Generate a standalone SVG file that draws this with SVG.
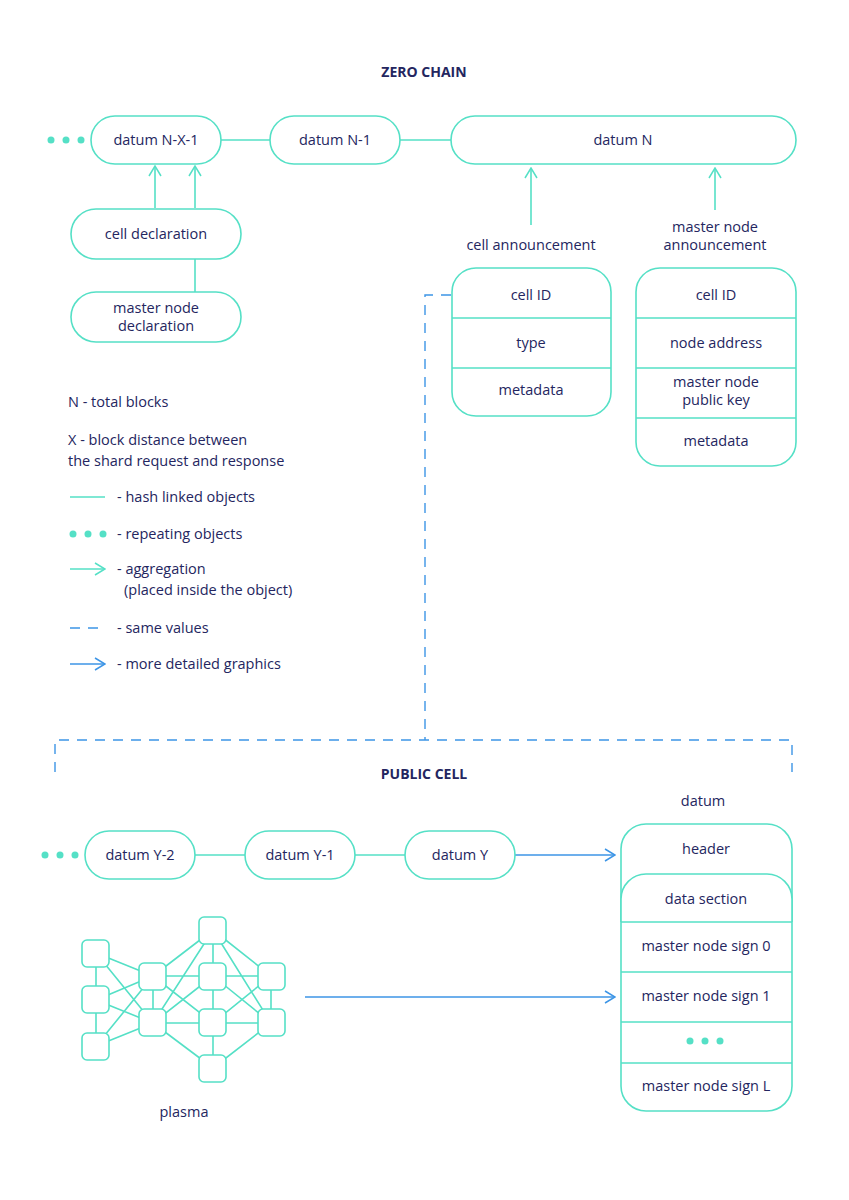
<svg xmlns="http://www.w3.org/2000/svg" width="849" height="1200" viewBox="0 0 849 1200">
<defs>
<style>
.s{fill:none;stroke:#55e0c6;stroke-width:1.6}
.b{fill:#fff;stroke:#55e0c6;stroke-width:1.6}
.bl{fill:none;stroke:#3d95e6;stroke-width:1.4}
.d{fill:none;stroke:#3d95e6;stroke-width:1.4;stroke-dasharray:10 8}
text{font-family:"Open Sans","Liberation Sans",sans-serif;font-size:14.5px;fill:#242660}
.c{text-anchor:middle}
.h{font-weight:bold;font-size:14px}
.dot{fill:#55e0c6}
</style>
<marker id="ta" markerWidth="12" markerHeight="14" refX="11" refY="7" orient="auto" markerUnits="userSpaceOnUse"><path d="M1,1 L11,7 L1,13" fill="none" stroke="#55e0c6" stroke-width="1.5"/></marker>
<marker id="ba" markerWidth="12" markerHeight="14" refX="11" refY="7" orient="auto" markerUnits="userSpaceOnUse"><path d="M1,1 L11,7 L1,13" fill="none" stroke="#3d95e6" stroke-width="1.5"/></marker>
</defs>
<rect width="849" height="1200" fill="#fff"/>
<text class="c h" x="424" y="77">ZERO CHAIN</text>
<text class="c h" x="424" y="779">PUBLIC CELL</text>
<g id="connectors">
<line class="s" x1="221" y1="140" x2="270" y2="140"/>
<line class="s" x1="400" y1="140" x2="451" y2="140"/>
<line class="s" x1="155" y1="208" x2="155" y2="166" marker-end="url(#ta)"/>
<line class="s" x1="195" y1="208" x2="195" y2="166" marker-end="url(#ta)"/>
<line class="s" x1="195" y1="259" x2="195" y2="292"/>
<line class="s" x1="531" y1="225" x2="531" y2="168" marker-end="url(#ta)"/>
<line class="s" x1="715" y1="210" x2="715" y2="168" marker-end="url(#ta)"/>
<path class="d" d="M451,295 H425 V740"/>
<path class="d" d="M55,772 V740 H792 V772"/>
<line class="s" x1="195" y1="855" x2="245" y2="855"/>
<line class="s" x1="355" y1="855" x2="405" y2="855"/>
<line class="bl" x1="515" y1="855" x2="615" y2="855" marker-end="url(#ba)"/>
<line class="bl" x1="305" y1="997" x2="615" y2="997" marker-end="url(#ba)"/>
</g>
<g id="dots-top"><circle class="dot" cx="51" cy="140" r="3.5"/><circle class="dot" cx="66" cy="140" r="3.5"/><circle class="dot" cx="81" cy="140" r="3.5"/></g>
<g id="n1"><rect class="b" x="91" y="116" width="130" height="48" rx="24"/><text class="c" x="156" y="145">datum N-X-1</text></g>
<g id="n2"><rect class="b" x="270" y="116" width="130" height="48" rx="24"/><text class="c" x="335" y="145">datum N-1</text></g>
<g id="n3"><rect class="b" x="451" y="116" width="345" height="48" rx="24"/><text class="c" x="623" y="145">datum N</text></g>
<g id="n4"><rect class="b" x="71" y="209" width="170" height="50" rx="25"/><text class="c" x="156" y="239">cell declaration</text></g>
<g id="n5"><rect class="b" x="71" y="292" width="170" height="50" rx="25"/><text class="c" x="156" y="313">master node</text><text class="c" x="156" y="331">declaration</text></g>
<text class="c" x="531" y="250">cell announcement</text>
<text class="c" x="715" y="232">master node</text>
<text class="c" x="715" y="250">announcement</text>
<g id="n6"><rect class="b" x="452" y="268" width="159" height="148" rx="24"/>
<line class="s" x1="452" y1="318" x2="611" y2="318"/><line class="s" x1="452" y1="368" x2="611" y2="368"/>
<text class="c" x="531" y="300">cell ID</text><text class="c" x="531" y="348">type</text><text class="c" x="531" y="395">metadata</text></g>
<g id="n7"><rect class="b" x="636" y="268" width="160" height="198" rx="24"/>
<line class="s" x1="636" y1="318" x2="796" y2="318"/><line class="s" x1="636" y1="368" x2="796" y2="368"/><line class="s" x1="636" y1="418" x2="796" y2="418"/>
<text class="c" x="716" y="300">cell ID</text><text class="c" x="716" y="348">node address</text><text class="c" x="716" y="387">master node</text><text class="c" x="716" y="405">public key</text><text class="c" x="716" y="446">metadata</text></g>
<g id="legend">
<text x="68" y="407">N - total blocks</text>
<text x="68" y="445">X - block distance between</text>
<text x="68" y="466">the shard request and response</text>
<line class="s" x1="70" y1="497" x2="105" y2="497"/><text x="117" y="502">- hash linked objects</text>
<circle class="dot" cx="73" cy="534" r="3.5"/><circle class="dot" cx="88" cy="534" r="3.5"/><circle class="dot" cx="103" cy="534" r="3.5"/><text x="117" y="539">- repeating objects</text>
<line class="s" x1="70" y1="569" x2="105" y2="569" marker-end="url(#ta)"/><text x="117" y="574">- aggregation</text><text x="124" y="595">(placed inside the object)</text>
<line class="d" x1="70" y1="628" x2="105" y2="628"/><text x="117" y="633">- same values</text>
<line class="bl" x1="70" y1="664" x2="105" y2="664" marker-end="url(#ba)"/><text x="117" y="669">- more detailed graphics</text>
</g>
<g id="dots-bottom"><circle class="dot" cx="45" cy="855" r="3.5"/><circle class="dot" cx="60" cy="855" r="3.5"/><circle class="dot" cx="75" cy="855" r="3.5"/></g>
<g id="y2"><rect class="b" x="85" y="831" width="110" height="48" rx="24"/><text class="c" x="140" y="860">datum Y-2</text></g>
<g id="y1"><rect class="b" x="245" y="831" width="110" height="48" rx="24"/><text class="c" x="300" y="860">datum Y-1</text></g>
<g id="y0"><rect class="b" x="405" y="831" width="110" height="48" rx="24"/><text class="c" x="460" y="860">datum Y</text></g>
<g id="datum">
<text class="c" x="703" y="806">datum</text>
<rect class="b" x="621" y="824" width="171" height="287" rx="25"/>
<path class="b" d="M621,922 V899 A25,25 0 0 1 646,874 H767 A25,25 0 0 1 792,899 V922"/>
<line class="s" x1="621" y1="922" x2="792" y2="922"/>
<line class="s" x1="621" y1="972" x2="792" y2="972"/>
<line class="s" x1="621" y1="1022" x2="792" y2="1022"/>
<line class="s" x1="621" y1="1063" x2="792" y2="1063"/>
<text class="c" x="706" y="854">header</text>
<text class="c" x="706" y="904">data section</text>
<text class="c" x="706" y="951">master node sign 0</text>
<text class="c" x="706" y="1001">master node sign 1</text>
<circle class="dot" cx="690" cy="1041" r="3.5"/><circle class="dot" cx="705" cy="1041" r="3.5"/><circle class="dot" cx="720" cy="1041" r="3.5"/>
<text class="c" x="706" y="1091">master node sign L</text>
</g>
<g id="plasma">
<g class="s">
<path d="M96,953 V1046 M96,953 L153,976 M96,953 L153,1023 M96,1000 L153,976 M96,1000 L153,1023 M96,1046 L153,976 M96,1046 L153,1023"/>
<path d="M153,976 V1023 M153,976 L213,930 M153,976 L213,976 M153,976 L213,1023 M153,1023 L213,930 M153,1023 L213,976 M153,1023 L213,1023 M153,1023 L213,1068"/>
<path d="M213,930 V1068 M213,930 L271,976 M213,930 L271,1023 M213,976 L271,976 M213,976 L271,1023 M213,1023 L271,976 M213,1023 L271,1023 M213,1068 L271,1023 M271,976 V1023"/>
</g>
<g class="b">
<rect x="82" y="940" width="27" height="27" rx="5"/><rect x="82" y="986" width="27" height="27" rx="5"/><rect x="82" y="1033" width="27" height="27" rx="5"/>
<rect x="139" y="963" width="27" height="27" rx="5"/><rect x="139" y="1009" width="27" height="27" rx="5"/>
<rect x="199" y="917" width="27" height="27" rx="5"/><rect x="199" y="963" width="27" height="27" rx="5"/><rect x="199" y="1009" width="27" height="27" rx="5"/><rect x="199" y="1055" width="27" height="27" rx="5"/>
<rect x="258" y="963" width="27" height="27" rx="5"/><rect x="258" y="1009" width="27" height="27" rx="5"/>
</g>
<text class="c" x="184" y="1117">plasma</text>
</g>
</svg>
